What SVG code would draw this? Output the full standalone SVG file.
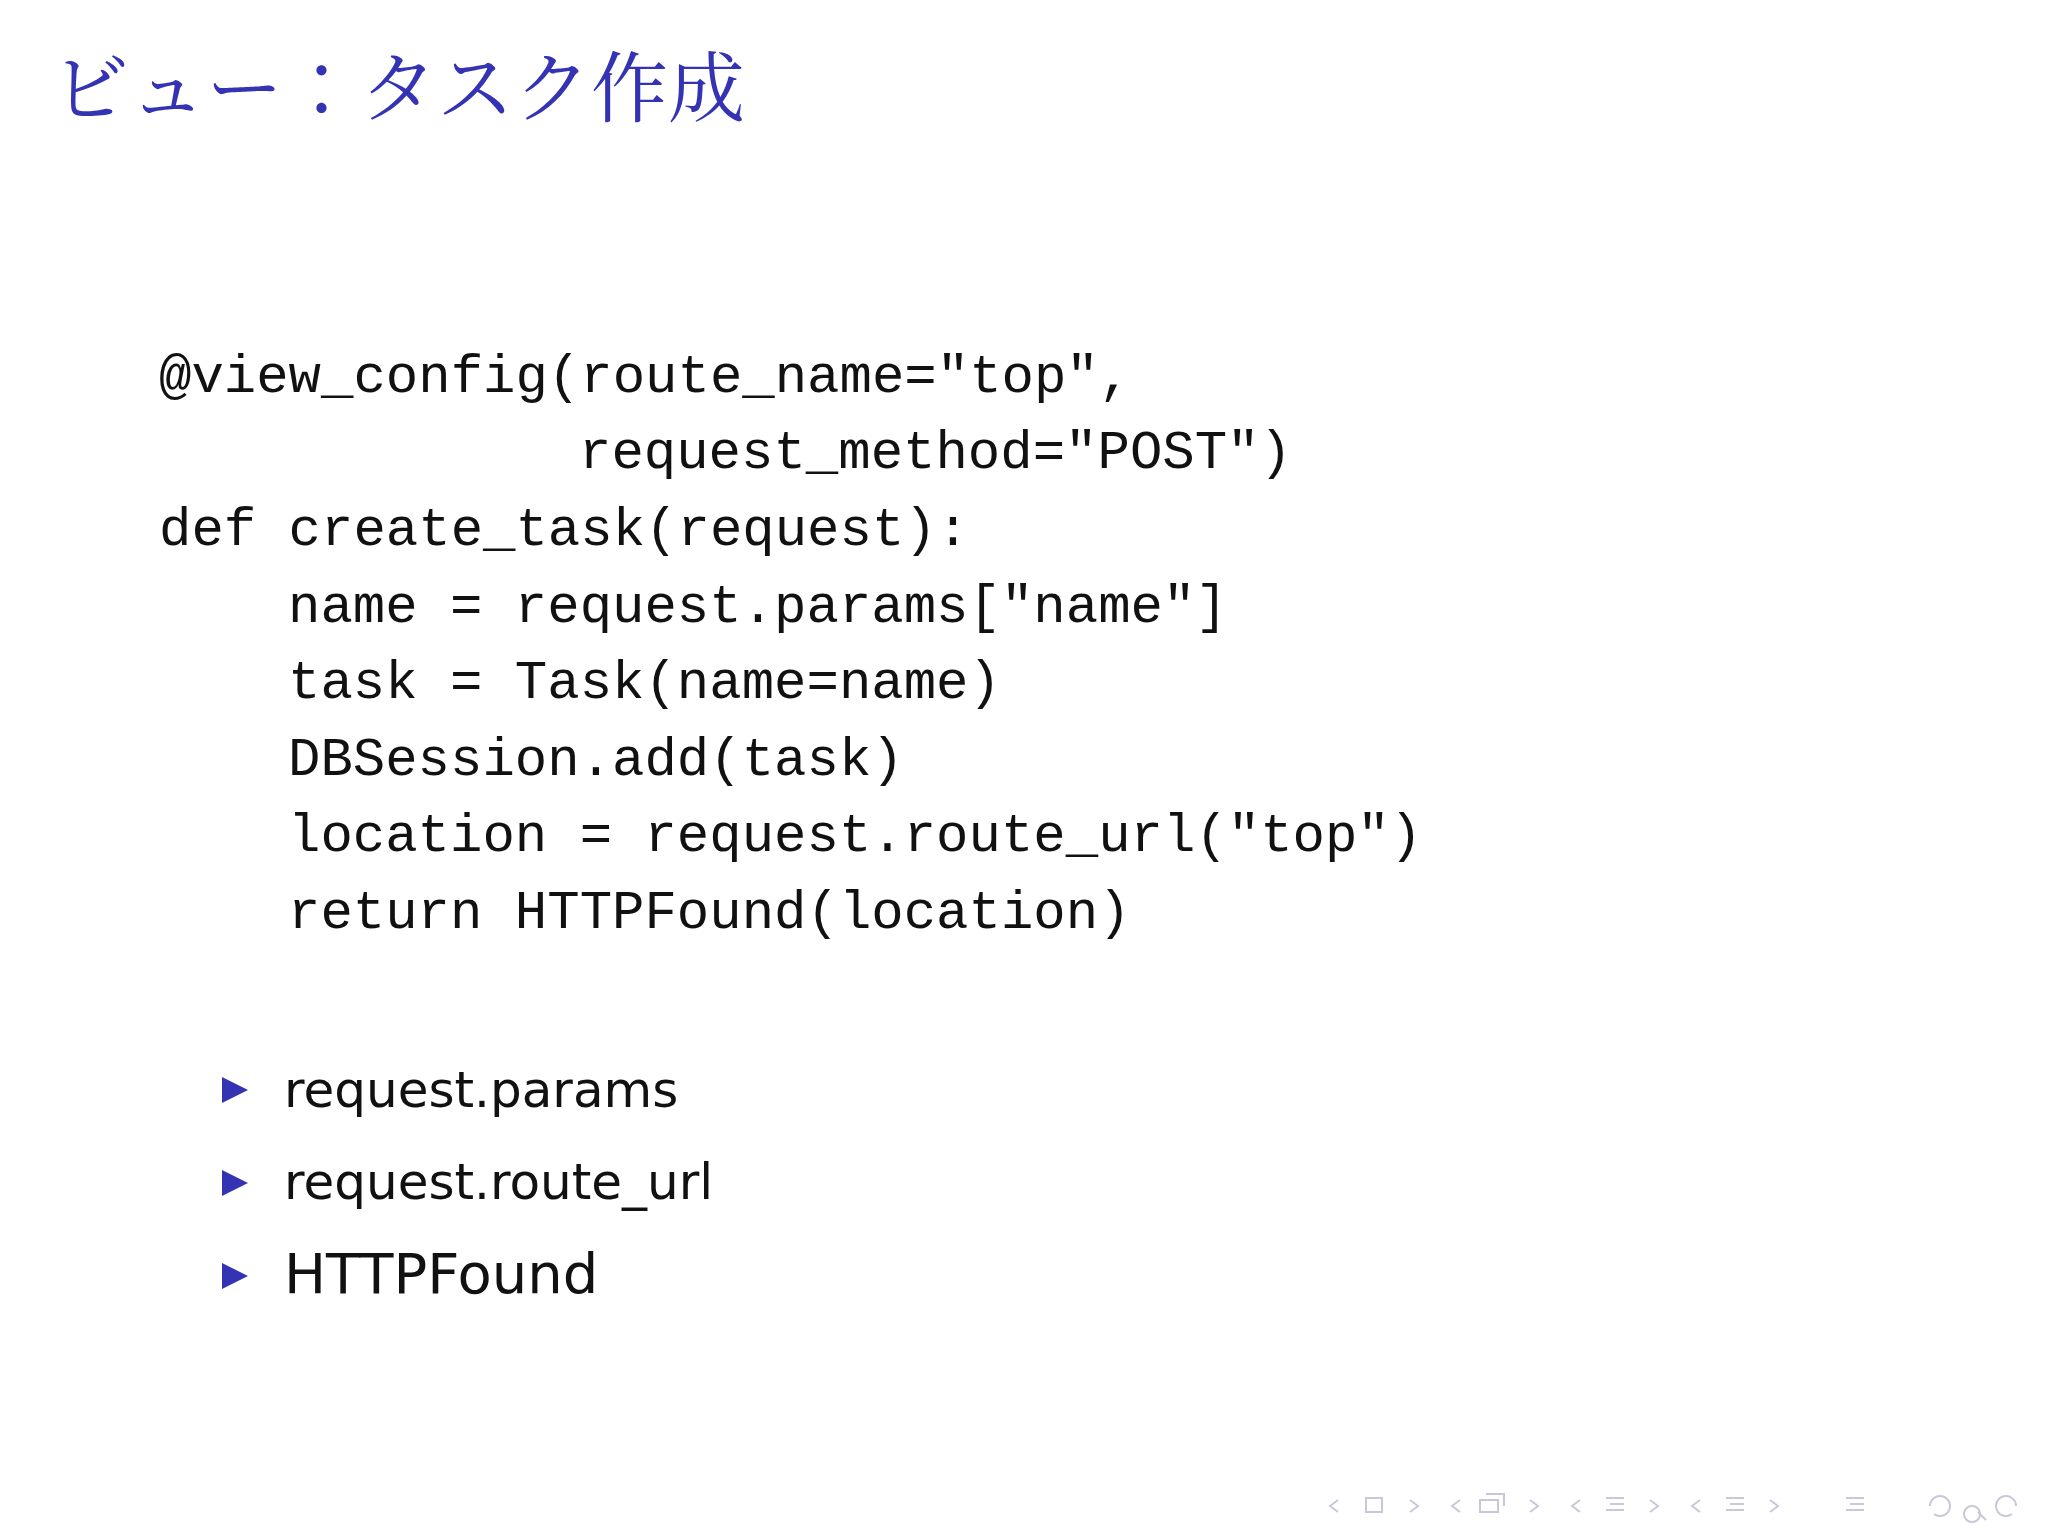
<svg xmlns="http://www.w3.org/2000/svg" width="2048" height="1536" viewBox="0 0 2048 1536">
<style>
.t{font-family:"Noto Serif CJK JP","Noto Sans CJK JP",serif;font-size:77px;fill:#3333b3}
.c{font-family:"Liberation Mono",monospace;font-size:54px;fill:#111}
.b{font-family:"DejaVu Sans","Liberation Sans",sans-serif;font-size:50px;fill:#111}
.tri{fill:#3333b3}
.n{fill:none;stroke:#c8c8d8;stroke-width:2}
</style>
<rect width="2048" height="1536" fill="#fff"/>
<g id="title"><text class="t" x="52" y="116">ビュー：タスク作成</text></g>
<g id="code">
<text class="c" x="159" y="392">@view_config(route_name="top",</text>
<text class="c" x="579" y="468">request_method="POST")</text>
<text class="c" x="159" y="545">def create_task(request):</text>
<text class="c" x="288" y="622">name = request.params["name"]</text>
<text class="c" x="288" y="698">task = Task(name=name)</text>
<text class="c" x="288" y="775">DBSession.add(task)</text>
<text class="c" x="288" y="851">location = request.route_url("top")</text>
<text class="c" x="288" y="928">return HTTPFound(location)</text>
</g>
<g id="bullets">
<polygon class="tri" points="222,1077 248,1090 222,1103"/>
<text class="b" x="284" y="1107">request.params</text>
<polygon class="tri" points="222,1170 248,1183 222,1196"/>
<text class="b" x="284" y="1199">request.route_url</text>
<polygon class="tri" points="222,1263 248,1276 222,1289"/>
<text class="b" x="284" y="1293" style="font-size:56px">HTTPFound</text>
</g>
<g id="nav">
<path class="n" d="M1338,1500 l-8,6 l8,6 M1366,1498 h16 v14 h-16 z M1410,1500 l8,6 l-8,6 M1460,1500 l-8,6 l8,6 M1480,1500 h18 v12 h-18 z M1486,1494 h18 v12 M1530,1500 l8,6 l-8,6 M1580,1500 l-8,6 l8,6 M1606,1498 h18 M1610,1504 h14 M1606,1510 h18 M1650,1500 l8,6 l-8,6 M1700,1500 l-8,6 l8,6 M1726,1498 h18 M1730,1504 h14 M1726,1510 h18 M1770,1500 l8,6 l-8,6 M1846,1498 h18 M1850,1504 h14 M1846,1510 h18 M1930,1506 a10,10 0 1 1 4,8 M1972,1506 a8,8 0 1 0 0.1,0 M1978,1512 l8,8 M2016,1506 a10,10 0 1 0 -4,8"/>
</g>
</svg>
